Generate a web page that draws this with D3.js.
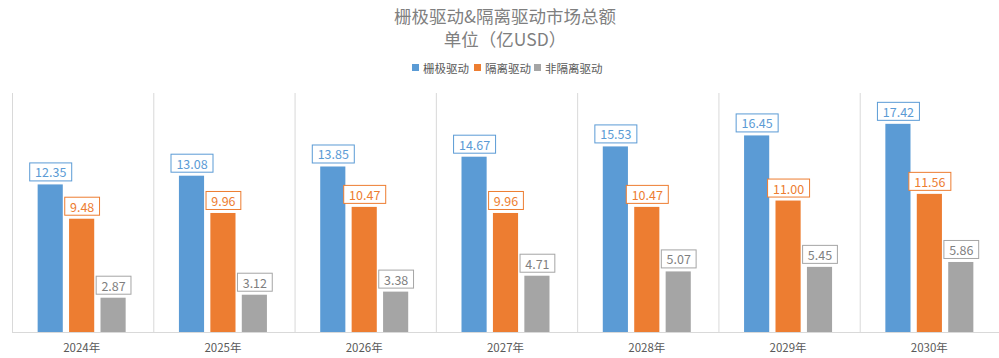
<!DOCTYPE html>
<html><head><meta charset="utf-8">
<script src="https://cdn.jsdelivr.net/npm/d3@7/dist/d3.min.js"></script>
<style>body{margin:0;background:#fff;}svg{display:block;font-family:"Noto Sans CJK SC","Noto Sans",sans-serif;}</style>
</head><body><svg id="c" width="999" height="358"></svg>
<script>
const categories = ["2024年","2025年","2026年","2027年","2028年","2029年","2030年"];
const seriesNames = ["栅极驱动","隔离驱动","非隔离驱动"];
const gateDrive = [12.35,13.08,13.85,14.67,15.53,16.45,17.42];
const isolatedDrive = [9.48,9.96,10.47,9.96,10.47,11.00,11.56];
const nonIsolatedDrive = [2.87,3.12,3.38,4.71,5.07,5.45,5.86];
const colors = ["#5B9BD5","#ED7D31","#A5A5A5"];
const titleLines = ["栅极驱动&隔离驱动市场总额","单位（亿USD）"];

const series = [gateDrive, isolatedDrive, nonIsolatedDrive];
const svg = d3.select("#c");
const x0 = 12, x1 = 1001, yTop = 93, yBase = 332;
const x = d3.scaleBand().domain(categories).range([x0, x1]).paddingInner(0).paddingOuter(0);
const y = d3.scaleLinear().domain([0,20]).range([yBase, yTop]);
const xs = d3.scaleBand().domain([0,1,2]).range([0, 88]).paddingInner(0.2).paddingOuter(0);

// vertical separators
const seps = categories.map(c => x(c));
svg.selectAll("line.sep").data(seps).join("line")
  .attr("x1", d => d + 0.5).attr("x2", d => d + 0.5)
  .attr("y1", yTop).attr("y2", yBase)
  .attr("stroke", "#D9D9D9").attr("stroke-width", 1);
// baseline
svg.append("line").attr("x1", x0).attr("x2", x1).attr("y1", yBase + 0.5).attr("y2", yBase + 0.5)
  .attr("stroke", "#D9D9D9");

// bars
const groupOff = (x.bandwidth() - 88) / 2 - 1;
series.forEach((vals, si) => {
  const g = svg.append("g");
  g.selectAll("rect").data(vals).join("rect")
    .attr("x", (d, i) => x(categories[i]) + groupOff + xs(si))
    .attr("width", xs.bandwidth())
    .attr("y", d => y(d))
    .attr("height", d => yBase - y(d))
    .attr("fill", colors[si]);
  // labels
  vals.forEach((d, i) => {
    const cx = x(categories[i]) + groupOff + xs(si) + xs.bandwidth() / 2;
    const txt = d.toFixed(2);
    const w = txt.length * 7.2 + 6;
    const bh = 18;
    const by = y(d) - 4 - bh;
    g.append("rect").attr("x", cx - w / 2 + 0.5).attr("y", by + 0.5).attr("width", w).attr("height", bh)
      .attr("fill", "#fff").attr("stroke", colors[si]).attr("stroke-width", 1);
    g.append("text").attr("x", cx + 0.5).attr("y", by + bh / 2 + 0.5)
      .attr("text-anchor", "middle").attr("dominant-baseline", "central")
      .attr("font-size", 12.5).attr("fill", si === 2 ? "#7F7F7F" : colors[si]).text(txt);
  });
});

// x axis labels
svg.selectAll("text.cat").data(categories).join("text")
  .attr("x", d => x(d) + x.bandwidth() / 2 - 1).attr("y", 347)
  .attr("text-anchor", "middle").attr("dominant-baseline", "central")
  .attr("font-size", 11.5).attr("fill", "#595959").text(d => d);

// title
svg.selectAll("text.title").data(titleLines).join("text")
  .attr("x", 505).attr("y", (d, i) => 15 + i * 23)
  .attr("text-anchor", "middle").attr("dominant-baseline", "central")
  .attr("font-size", 17.5).attr("fill", "#7F7F7F").text(d => d);

// legend
const legX = [412, 474, 534];
seriesNames.forEach((n, i) => {
  svg.append("rect").attr("x", legX[i]).attr("y", 64).attr("width", 7).attr("height", 7).attr("fill", colors[i]);
  svg.append("text").attr("x", legX[i] + 11).attr("y", 68).attr("dominant-baseline", "central")
    .attr("font-size", 11.5).attr("fill", "#595959").text(n);
});
</script></body></html>
